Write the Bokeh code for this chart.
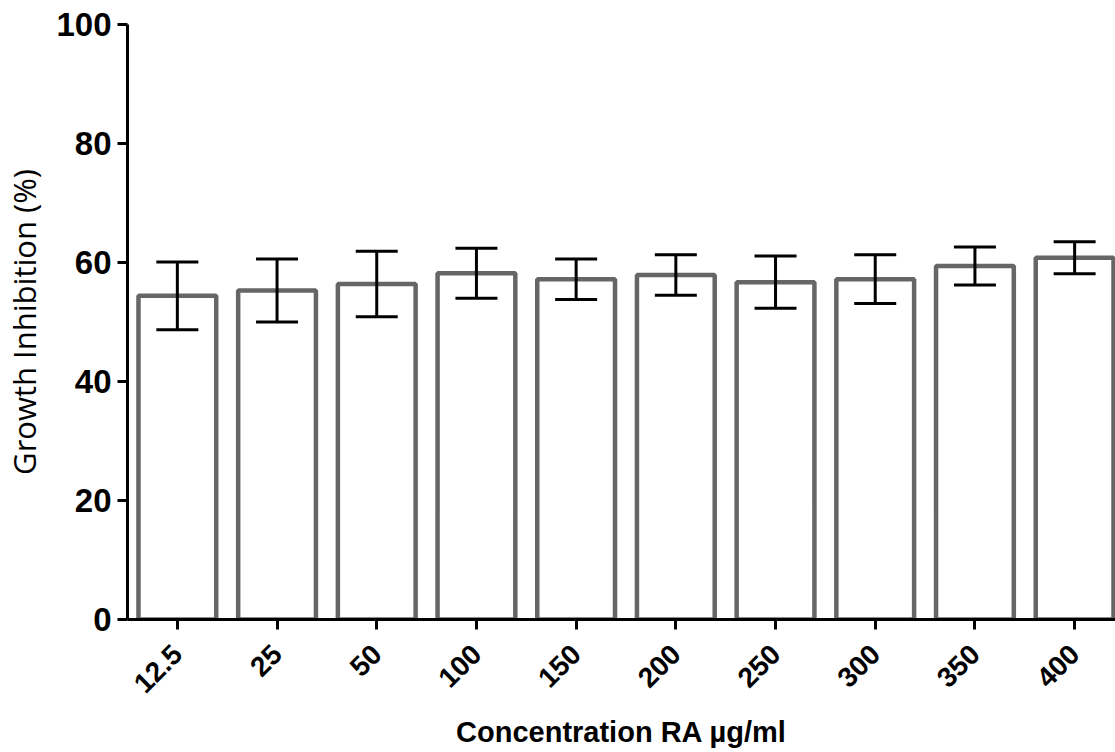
import math
from bokeh.plotting import figure
from bokeh.models import ColumnDataSource, Whisker, TeeHead, FixedTicker, Range1d, CustomJSTickFormatter
from bokeh.embed import file_html
from bokeh.resources import INLINE

# ---- data ----
concentrations = ["12.5", "25", "50", "100", "150", "200", "250", "300", "350", "400"]
inhibition_mean = [54.4, 55.3, 56.4, 58.2, 57.2, 57.9, 56.7, 57.2, 59.4, 60.8]
inhibition_err = [5.7, 5.3, 5.5, 4.2, 3.4, 3.4, 4.4, 4.1, 3.2, 2.7]
y_ticks = [0, 20, 40, 60, 80, 100]

xpos = [i + 0.5 for i in range(len(concentrations))]
src = ColumnDataSource(dict(
    x=xpos,
    top=inhibition_mean,
    upper=[m + e for m, e in zip(inhibition_mean, inhibition_err)],
    lower=[m - e for m, e in zip(inhibition_mean, inhibition_err)],
    label=concentrations,
))

p = figure(width=1115, height=752, output_backend="svg", toolbar_location=None,
           x_range=Range1d(0, 9.91), y_range=Range1d(0, 100),
           min_border_left=127, min_border_right=0, min_border_top=24, min_border_bottom=133)
p.outline_line_color = None
p.xgrid.grid_line_color = None
p.ygrid.grid_line_color = None
p.background_fill_color = "white"
p.border_fill_color = "white"

p.vbar(x="x", top="top", bottom=0, width=0.78, source=src,
       fill_color="white", line_color="#666666", line_width=4.5)

wh = Whisker(base="x", upper="upper", lower="lower", source=src,
             line_color="black", line_width=3, level="overlay",
             upper_head=TeeHead(size=42, line_color="black", line_width=3),
             lower_head=TeeHead(size=42, line_color="black", line_width=3))
p.add_layout(wh)

# y axis
ya = p.yaxis[0]
ya.ticker = FixedTicker(ticks=y_ticks)
ya.minor_tick_line_color = None
ya.major_tick_out = 10
ya.major_tick_in = 0
ya.major_tick_line_width = 3
ya.axis_line_width = 3
ya.axis_line_color = "black"
ya.major_tick_line_color = "black"
ya.major_label_text_font = "Liberation Sans"
ya.major_label_text_font_style = "bold"
ya.major_label_text_font_size = "33px"
ya.major_label_text_color = "black"
ya.major_label_standoff = 6
ya.axis_label = "Growth Inhibition (%)"
ya.axis_label_text_font = "Open Sans"
ya.axis_label_text_font_style = "normal"
ya.axis_label_text_font_size = "31px"
ya.axis_label_text_color = "black"
ya.axis_label_standoff = 8

# x axis
xa = p.xaxis[0]
xa.ticker = FixedTicker(ticks=xpos)
xa.formatter = CustomJSTickFormatter(args=dict(labels=concentrations),
                                     code="return labels[Math.floor(tick)];")
xa.minor_tick_line_color = None
xa.major_tick_out = 10
xa.major_tick_in = 0
xa.major_tick_line_width = 3
xa.axis_line_width = 3
xa.axis_line_color = "black"
xa.major_tick_line_color = "black"
xa.major_label_orientation = math.pi / 4
xa.major_label_text_font = "Liberation Sans"
xa.major_label_text_font_style = "bold"
xa.major_label_text_font_size = "28px"
xa.major_label_text_color = "black"
xa.major_label_standoff = 20
xa.axis_label = "Concentration RA µg/ml"
xa.axis_label_text_font = "Liberation Sans"
xa.axis_label_text_font_style = "bold"
xa.axis_label_text_font_size = "29px"
xa.axis_label_text_color = "black"
xa.axis_label_standoff = 12

open("out.html", "w").write(file_html(p, INLINE))
